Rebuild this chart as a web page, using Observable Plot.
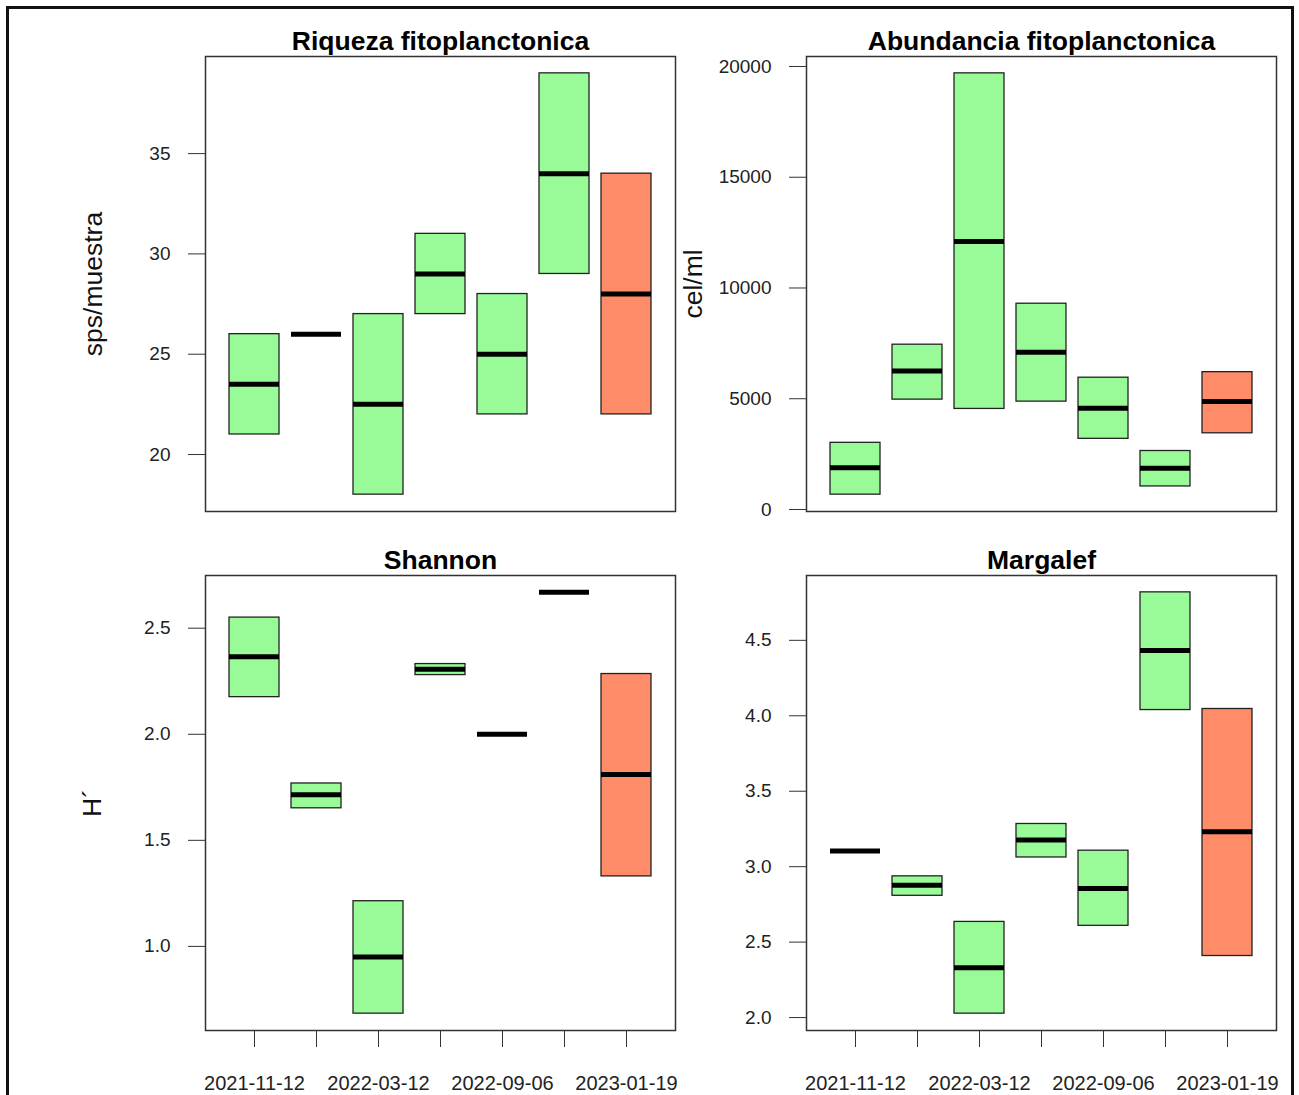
<!DOCTYPE html>
<html><head><meta charset="utf-8">
<script src="https://cdn.jsdelivr.net/npm/d3@7"></script>
<script src="https://cdn.jsdelivr.net/npm/@observablehq/plot@0.6"></script>
<style>
body{margin:0;background:#fff;}
#wrap{position:relative;width:1299px;height:1095px;overflow:hidden;background:#fff;}
#border{position:absolute;left:6px;top:6px;width:1288px;height:1120px;border:3px solid #111;box-sizing:border-box;}
.panel{position:absolute;}
</style></head><body><div id="wrap"><div id="border"></div></div>
<script>
// sampling campaigns (R only printed every other label)
const muestreos = [1, 2, 3, 4, 5, 6, 7];
const tickLabels = ["2021-11-12", "", "2022-03-12", "", "2022-09-06", "", "2023-01-19"];
const grupo = ["A", "A", "A", "A", "A", "A", "B"];

// Riqueza fitoplanctonica (sps/muestra)
const riquezaQ1  = [21, 26, 18, 27, 22, 29, 22];
const riquezaMed = [23.5, 26, 22.5, 29, 25, 34, 28];
const riquezaQ3  = [26, 26, 27, 31, 28, 39, 34];
const riquezaTicks = [20, 25, 30, 35];

// Abundancia fitoplanctonica (cel/ml)
const abundQ1  = [670, 4960, 4540, 4870, 3190, 1040, 3440];
const abundMed = [1880, 6250, 12100, 7100, 4570, 1860, 4880];
const abundQ3  = [3010, 7440, 19690, 9290, 5950, 2640, 6200];
const abundTicks = [0, 5000, 10000, 15000, 20000];

// Shannon (H')
const shannonQ1  = [2.175, 1.651, 0.683, 2.279, 2.0, 2.669, 1.33];
const shannonMed = [2.366, 1.715, 0.95, 2.307, 2.0, 2.669, 1.81];
const shannonQ3  = [2.55, 1.768, 1.213, 2.331, 2.0, 2.669, 2.284];
const shannonTicks = [1.0, 1.5, 2.0, 2.5];

// Margalef
const margalefQ1  = [3.104, 2.807, 2.026, 3.061, 2.608, 4.038, 2.408];
const margalefMed = [3.104, 2.877, 2.33, 3.177, 2.856, 4.432, 3.231];
const margalefQ3  = [3.104, 2.936, 2.634, 3.283, 3.106, 4.818, 4.045];
const margalefTicks = [2.0, 2.5, 3.0, 3.5, 4.0, 4.5];

const FONT = "'Liberation Sans', Arial, sans-serif";

function panel(o) {
  const data = muestreos.map((m, i) => ({m, q1: o.q1[i], med: o.med[i], q3: o.q3[i], g: grupo[i]}));
  const lo = d3.min(o.q1), hi = d3.max(o.q3), ext = (hi - lo) * 0.04;
  const marks = [
    Plot.barY(data, {x: "m", y1: "q1", y2: "q3", fill: "g", stroke: "#222", strokeWidth: 1.3}),
    Plot.tickY(data, {x: "m", y: "med", stroke: "#000", strokeWidth: 5}),
    Plot.frame({stroke: "#333", strokeWidth: 1.5}),
    Plot.axisY({ticks: o.yticks, tickSize: 17, tickPadding: 18, tickFormat: o.fmt, fontSize: 19, label: null, stroke: "#333", fill: "#222"}),
    Plot.text([o.title], {text: d => d, frameAnchor: "top", lineAnchor: "middle", textAnchor: "middle", dy: -14.5, fontSize: 26.5, fontWeight: "bold", fill: "#000"}),
    Plot.text([o.ylab], {text: d => d, frameAnchor: "left", lineAnchor: "middle", textAnchor: "middle", dx: o.ylabDx, rotate: -90, fontSize: 26.5, fill: "#111"})
  ];
  if (o.xaxis) marks.push(Plot.axisX({tickSize: 17, tickPadding: 28, tickFormat: d => tickLabels[muestreos.indexOf(d)], fontSize: 20, label: null, stroke: "#333", fill: "#222"}));
  const svg = Plot.plot({
    width: o.width, height: o.height,
    marginTop: o.mt, marginRight: o.mr, marginBottom: o.mb, marginLeft: o.ml,
    style: {fontFamily: FONT, background: "transparent", overflow: "visible"},
    x: {type: "band", domain: muestreos, paddingInner: 0.2, paddingOuter: 0.38, axis: null},
    y: {domain: [lo - ext, hi + ext], axis: null},
    color: {domain: ["A", "B"], range: ["#98FB98", "#FF8C69"]},
    marks
  });
  svg.classList.add("panel");
  svg.style.left = o.left + "px";
  svg.style.top = o.top + "px";
  document.getElementById("wrap").appendChild(svg);
}

panel({left: 0, top: 0, width: 680, height: 540, mt: 56, mr: 5, mb: 29, ml: 205,
  q1: riquezaQ1, med: riquezaMed, q3: riquezaQ3, yticks: riquezaTicks, fmt: d3.format("d"),
  title: "Riqueza fitoplanctonica", ylab: "sps/muestra", ylabDx: -112, xaxis: false});
panel({left: 680, top: 0, width: 619, height: 540, mt: 56, mr: 23, mb: 29, ml: 126,
  q1: abundQ1, med: abundMed, q3: abundQ3, yticks: abundTicks, fmt: d3.format("d"),
  title: "Abundancia fitoplanctonica", ylab: "cel/ml", ylabDx: -113, xaxis: false});
panel({left: 0, top: 540, width: 680, height: 555, mt: 35, mr: 5, mb: 65, ml: 205,
  q1: shannonQ1, med: shannonMed, q3: shannonQ3, yticks: shannonTicks, fmt: d3.format(".1f"),
  title: "Shannon", ylab: "H´", ylabDx: -113, xaxis: true});
panel({left: 680, top: 540, width: 619, height: 555, mt: 35, mr: 23, mb: 65, ml: 126,
  q1: margalefQ1, med: margalefMed, q3: margalefQ3, yticks: margalefTicks, fmt: d3.format(".1f"),
  title: "Margalef", ylab: "", ylabDx: -113, xaxis: true});
</script></body></html>
